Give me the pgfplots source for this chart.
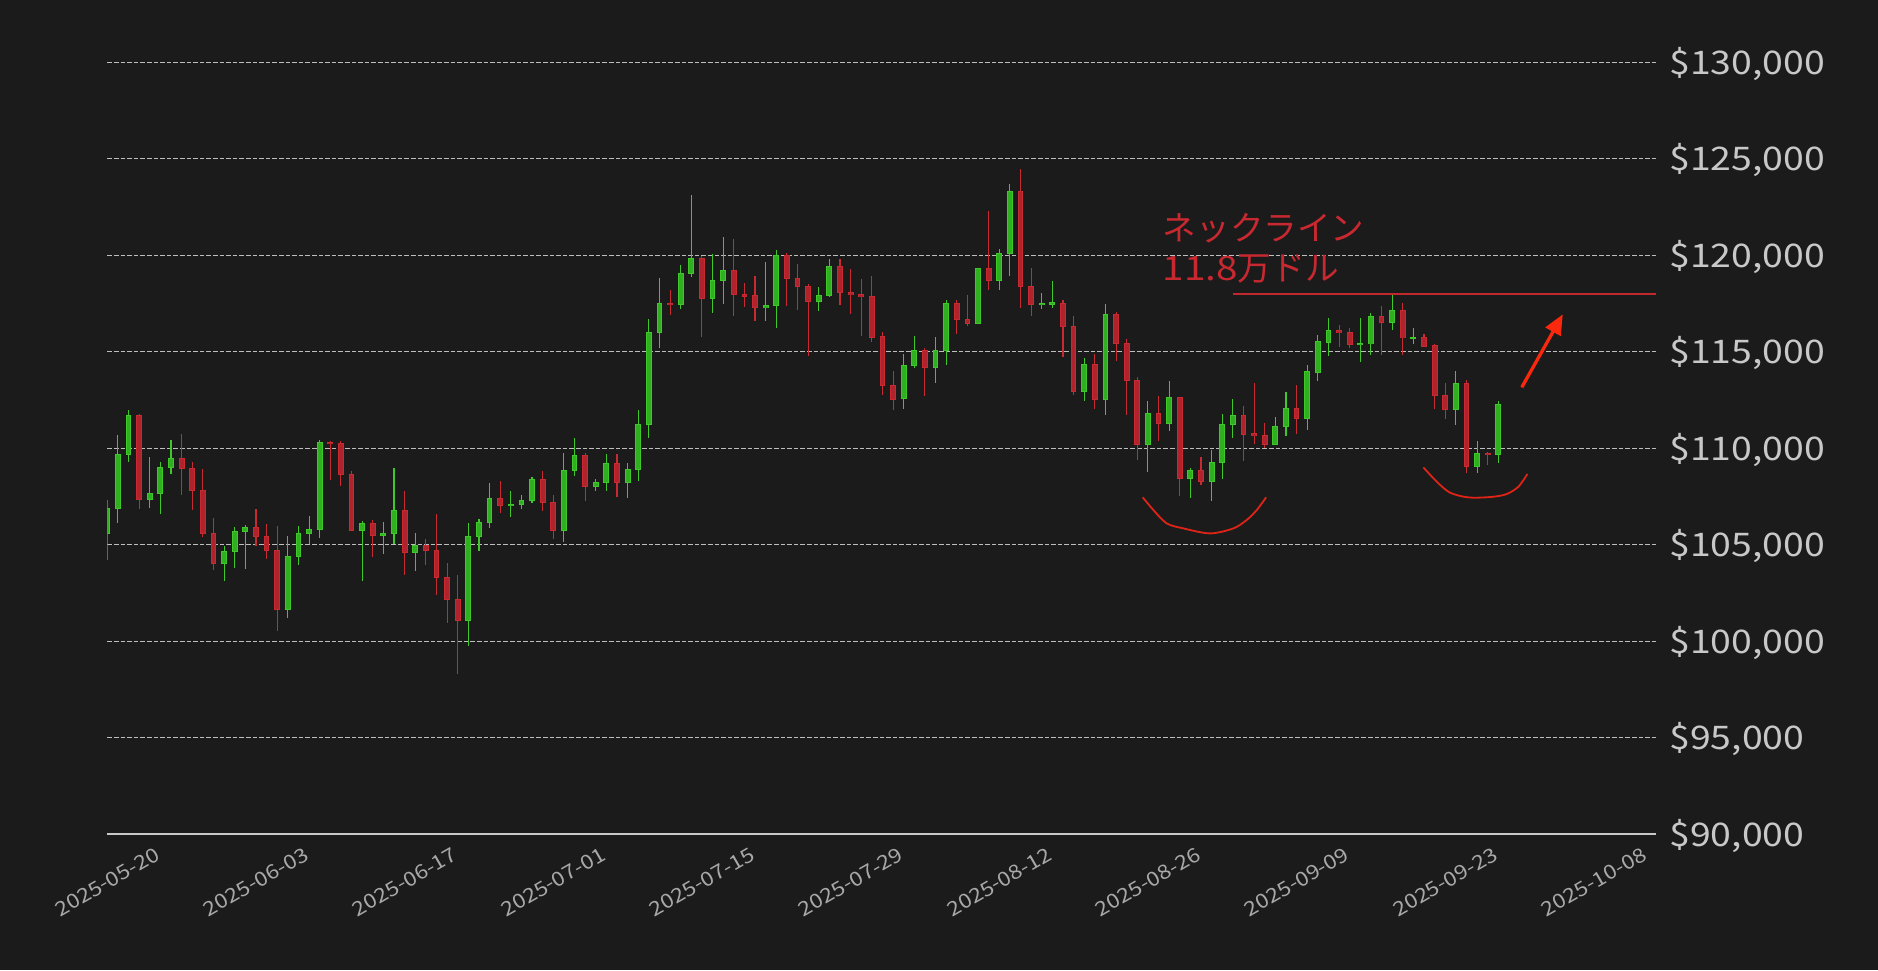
\documentclass[border=0pt]{standalone}
\usepackage{fontspec}
\usepackage{pgfplots}
\usepackage{pgfplotstable}
\pgfplotsset{compat=1.18}
\usetikzlibrary{arrows.meta}

\newfontfamily\labf[FakeStretch=1.15]{Noto Sans CJK JP}
\newfontfamily\jpf{Noto Sans CJK JP}

\definecolor{bgC}{RGB}{27,27,27}
\definecolor{gridC}{RGB}{190,190,190}
\definecolor{axisC}{RGB}{200,200,200}
\definecolor{ytxtC}{RGB}{200,200,200}
\definecolor{dateC}{RGB}{168,168,168}
\definecolor{gFill}{RGB}{48,175,32}
\definecolor{gEdge}{RGB}{62,200,42}
\definecolor{rFill}{RGB}{176,34,44}
\definecolor{rEdge}{RGB}{200,42,50}
\definecolor{neckC}{RGB}{192,40,46}
\definecolor{annC}{RGB}{200,40,48}
\definecolor{arcC}{RGB}{222,36,22}
\definecolor{arrowC}{RGB}{250,40,12}

% daily candles, prices in thousand USD, i = day since 2025-05-20
\pgfplotstableread{
i o h l c
0 105.58 107.32 104.21 106.89
1 106.87 110.69 106.15 109.69
2 109.67 111.99 109.31 111.71
4 107.34 109.53 106.93 107.67
5 107.65 109.28 106.62 109.02
6 109.00 110.43 108.69 109.48
11 104.02 104.94 103.14 104.66
12 104.65 105.92 103.82 105.70
13 105.68 106.03 103.77 105.91
17 101.64 105.46 101.23 104.41
18 104.39 105.98 103.97 105.60
19 105.58 106.49 105.04 105.80
20 105.79 110.43 105.37 110.31
24 105.73 106.24 103.14 106.11
26 105.48 106.18 104.54 105.61
27 105.58 108.98 105.03 106.79
29 104.60 105.60 103.63 104.97
34 101.07 106.11 99.74 105.44
35 105.42 106.32 104.68 106.17
36 106.15 108.20 105.89 107.41
38 107.03 107.79 106.46 107.10
39 107.08 107.58 106.86 107.31
40 107.29 108.50 107.19 108.39
43 105.73 109.76 105.15 108.86
44 108.84 110.54 108.57 109.64
46 108.01 108.41 107.81 108.24
47 108.22 109.71 107.81 109.22
49 108.22 109.24 107.44 108.91
50 108.90 111.99 108.33 111.24
51 111.23 116.68 110.55 116.01
52 115.99 118.82 115.19 117.52
54 117.43 119.50 117.22 119.06
55 119.05 123.14 118.89 119.84
57 117.74 120.07 117.01 118.70
58 118.68 120.94 117.48 119.22
62 117.27 119.65 116.58 117.41
63 117.38 120.28 116.23 120.00
67 117.59 118.35 117.12 117.92
68 117.90 119.81 117.83 119.43
75 112.56 114.88 112.04 114.29
76 114.27 115.81 114.17 115.07
78 114.17 115.76 113.39 115.07
79 115.04 117.68 114.33 117.51
82 116.45 119.33 116.45 119.33
84 118.69 120.33 118.20 120.10
85 120.07 123.70 118.93 123.32
88 117.44 118.05 117.22 117.53
89 117.47 118.67 117.27 117.54
92 112.92 114.67 112.46 114.34
94 112.51 117.47 111.73 116.94
98 110.21 112.43 108.79 111.83
100 111.29 113.51 110.90 112.62
102 108.42 108.96 107.43 108.86
104 108.27 109.90 107.28 109.27
105 109.25 111.79 108.42 111.25
106 111.23 112.55 110.56 111.72
110 110.19 111.63 110.19 111.15
111 111.13 112.93 110.66 112.08
113 111.55 114.32 110.97 113.96
114 113.94 115.85 113.47 115.52
115 115.50 116.77 114.77 116.09
118 115.35 116.77 114.46 115.42
119 115.40 117.00 114.83 116.82
121 116.51 118.00 116.13 117.14
123 115.71 116.22 115.43 115.75
127 112.01 114.01 111.22 113.35
129 109.05 110.38 108.73 109.76
131 109.67 112.47 109.24 112.26
}\up

\pgfplotstableread{
i o h l c
3 111.71 111.78 106.87 107.34
7 109.48 110.73 107.60 108.95
8 108.96 109.28 106.82 107.81
9 107.82 108.93 105.42 105.58
10 105.60 106.39 103.71 104.02
14 105.91 106.86 104.96 105.42
15 105.44 106.08 104.28 104.70
16 104.72 105.98 100.55 101.64
21 110.33 110.38 108.38 110.24
22 110.26 110.38 108.05 108.64
23 108.65 108.83 105.73 105.73
25 106.11 106.29 104.39 105.48
28 106.79 107.79 103.42 104.60
30 104.97 105.30 103.96 104.70
31 104.72 106.60 102.40 103.30
32 103.32 104.06 100.97 102.16
33 102.18 103.44 98.33 101.07
37 107.41 108.31 106.67 107.03
41 108.39 108.83 106.77 107.19
42 107.20 107.58 105.30 105.73
45 109.64 109.76 107.29 108.01
48 109.22 109.71 107.50 108.22
53 117.52 118.20 116.91 117.43
56 119.84 119.95 115.76 117.74
59 119.22 120.85 116.86 117.95
60 117.97 118.56 117.33 117.88
61 117.92 118.92 116.58 117.27
64 120.00 120.12 117.36 118.79
65 118.80 119.55 117.15 118.37
66 118.39 118.51 114.78 117.59
69 119.43 119.81 117.41 118.06
70 118.07 119.29 116.95 117.95
71 117.97 118.77 115.82 117.85
72 117.87 118.92 115.50 115.76
73 115.78 116.04 112.74 113.26
74 113.28 114.03 112.01 112.54
77 115.07 115.19 112.72 114.17
80 117.51 117.68 115.92 116.66
81 116.68 117.94 116.33 116.45
83 119.33 122.30 118.20 118.69
86 123.32 124.48 117.27 118.37
87 118.39 119.34 116.85 117.44
90 117.51 117.68 114.74 116.30
91 116.32 116.85 112.75 112.92
93 114.34 114.88 112.04 112.51
95 116.94 117.04 114.53 115.42
96 115.43 115.66 111.73 113.50
97 113.51 113.69 109.40 110.21
99 111.83 112.69 110.40 111.30
101 112.62 112.67 107.52 108.42
103 108.86 109.55 108.09 108.27
107 111.72 112.21 109.36 110.71
108 110.75 113.39 110.24 110.66
109 110.68 111.32 110.02 110.19
112 112.08 113.30 110.76 111.55
116 116.09 116.37 115.24 115.99
117 115.99 116.22 115.19 115.35
120 116.82 117.36 114.83 116.51
122 117.14 117.52 114.83 115.71
124 115.73 115.90 115.23 115.28
125 115.31 115.43 112.05 112.74
126 112.76 113.39 111.53 112.01
128 113.35 113.54 108.73 109.05
130 109.76 109.81 109.13 109.67
}\down

\pgfplotsset{
  wick/.style={draw=none, mark=none, forget plot,
    error bars/.cd, y dir=both, y explicit, error mark=none,
    error bar style={draw=#1, line width=0.55pt}},
  body/.style 2 args={draw=none, mark=none, forget plot,
    error bars/.cd, y dir=both, y explicit, error mark=none,
    error bar style={draw=#1, line width=#2}},
}

\begin{document}
\begin{tikzpicture}
\fill[bgC] (0,0) rectangle (939pt,485pt);
\begin{axis}[
  at={(53.65pt,67.85pt)}, anchor=south west,
  scale only axis, width=774.35pt, height=386pt,
  xmin=0, xmax=145.85, ymin=90, ymax=130,
  axis x line*=bottom, axis y line*=right,
  x axis line style={draw=axisC, line width=1pt, -},
  y axis line style={draw=none},
  major tick length=0pt,
  xtick={0,14,...,140},
  xticklabels={2025-05-20,2025-06-03,2025-06-17,2025-07-01,2025-07-15,2025-07-29,2025-08-12,2025-08-26,2025-09-09,2025-09-23,2025-10-08},
  xticklabel style={font=\labf\fontsize{9.9pt}{11pt}\selectfont, text=dateC,
    inner sep=0pt, anchor=center, yshift=-23.8pt, rotate=30},
  ytick={90,95,...,130},
  yticklabels={{\$90,000},{\$95,000},{\$100,000},{\$105,000},{\$110,000},{\$115,000},{\$120,000},{\$125,000},{\$130,000}},
  yticklabel style={font=\labf\fontsize{16.25pt}{18pt}\selectfont, text=ytxtC,
    inner sep=0pt, anchor=base west, xshift=6.5pt, yshift=-5.9pt},
  ymajorgrids,
  grid style={draw=gridC, line width=0.5pt, dash pattern=on 2.3pt off 1pt},
  clip=true,
]
% wicks
\addplot[wick=gEdge] table[x=i, y expr={(\thisrow{h}+\thisrow{l})/2}, y error expr={(\thisrow{h}-\thisrow{l})/2}] {\up};
\addplot[wick=rEdge] table[x=i, y expr={(\thisrow{h}+\thisrow{l})/2}, y error expr={(\thisrow{h}-\thisrow{l})/2}] {\down};
% bodies: outline then fill
\addplot[body={gEdge}{2.9pt}] table[x=i, y expr={(\thisrow{o}+\thisrow{c})/2}, y error expr={max(abs(\thisrow{c}-\thisrow{o})/2+0.02,0.05)}] {\up};
\addplot[body={rEdge}{2.9pt}] table[x=i, y expr={(\thisrow{o}+\thisrow{c})/2}, y error expr={max(abs(\thisrow{c}-\thisrow{o})/2+0.02,0.05)}] {\down};
\addplot[body={gFill}{1.9pt}] table[x=i, y expr={(\thisrow{o}+\thisrow{c})/2}, y error expr={max(abs(\thisrow{c}-\thisrow{o})/2-0.03,0)}] {\up};
\addplot[body={rFill}{1.9pt}] table[x=i, y expr={(\thisrow{o}+\thisrow{c})/2}, y error expr={max(abs(\thisrow{c}-\thisrow{o})/2-0.03,0)}] {\down};

% neckline at 118k
\addplot[neckC, line width=0.7pt, forget plot] coordinates {(106,118) (145.85,118)};
% double bottom arcs
\addplot[arcC, line width=0.9pt, smooth, forget plot] coordinates {
  (97.51,107.46) (98.52,106.80) (99.77,106.11) (101.34,105.85) (103.85,105.59)
  (106.05,105.85) (107.31,106.29) (108.25,106.80) (109.13,107.46)};
\addplot[arcC, line width=0.9pt, smooth, forget plot] coordinates {
  (123.94,109.01) (125.20,108.27) (126.30,107.75) (127.40,107.53) (128.65,107.44)
  (130.53,107.49) (131.79,107.63) (132.89,108.01) (133.74,108.67)};
% arrow
\addplot[arrowC, line width=1.65pt, forget plot, -{Triangle[length=10pt, width=8.5pt]}]
  coordinates {(133.21,113.16) (137.07,116.94)};

\node[anchor=base west, inner sep=0pt, text=annC, font=\jpf\fontsize{16.8pt}{19pt}\selectfont]
  at (axis cs:99.37,120.79) {ネックライン};
\node[anchor=base west, inner sep=0pt, text=annC, font=\jpf\fontsize{16.8pt}{19pt}\selectfont]
  at (axis cs:99.37,118.72) {{\labf 11.8}万ドル};
\end{axis}
\pgfresetboundingbox
\useasboundingbox (0,0) rectangle (939pt,485pt);
\end{tikzpicture}
\end{document}
